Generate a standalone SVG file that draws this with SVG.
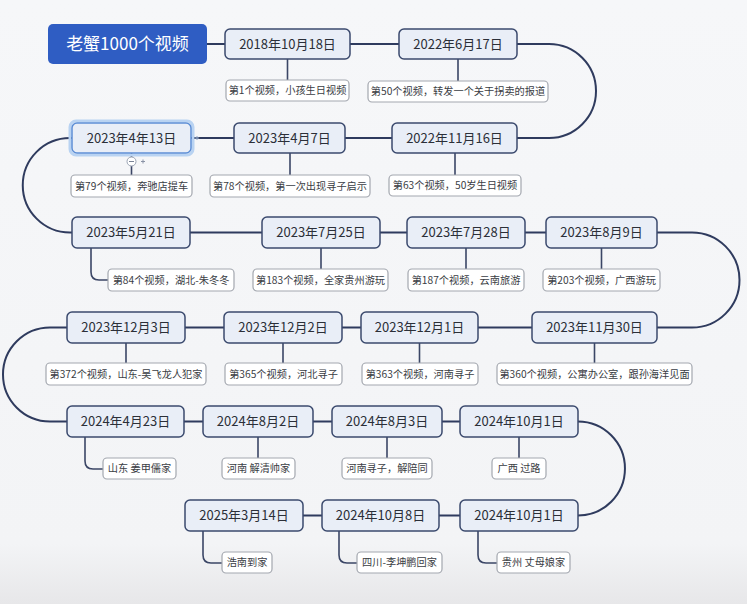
<svg xmlns="http://www.w3.org/2000/svg" width="747" height="604" viewBox="0 0 747 604">
<defs>
<linearGradient id="bg" x1="0" y1="0" x2="0" y2="1">
<stop offset="0" stop-color="#F6F7F9"/>
<stop offset="0.9" stop-color="#F3F4F6"/>
<stop offset="1" stop-color="#E7E7E9"/>
</linearGradient>
<style>
.n rect{fill:#E9EEF7;stroke:#3B4A6E;stroke-width:1.5}
.n text{font-family:"Noto Sans CJK SC","Noto Sans",sans-serif;font-size:13px;fill:#2B2F38;text-anchor:middle}
.l rect{fill:#FFFFFF;stroke:#A3A7AF;stroke-width:1.2}
.l text{font-family:"Noto Sans CJK SC","Noto Sans",sans-serif;font-size:10.2px;fill:#3A3D44;text-anchor:middle}
.c{fill:none;stroke:#2F3B5E;stroke-width:2}
.s{fill:none;stroke:#3B4666;stroke-width:1.6}
</style>
</defs>
<rect x="0" y="0" width="747" height="604" fill="url(#bg)"/>

<g id="connectors">
<path class="c" d="M207,44 H225 M350,44 H399 M517,44 H549 A47,47 0 0 1 549,138 H517"/>
<path class="c" d="M392,138 H345 M234,138 H191 M72,138 H70 A47.25,47.25 0 0 0 70,232.5 H72"/>
<path class="c" d="M190,232.5 H262 M380,232.5 H407 M525,232.5 H546 M657,232.5 H692 A47.5,47.5 0 0 1 692,327.5 H657"/>
<path class="c" d="M532,327.5 H478 M361,327.5 H342 M224,327.5 H185 M67,327.5 H50 A47,47 0 0 0 50,421.5 H67"/>
<path class="c" d="M184,421.5 H203 M313,421.5 H332 M442,421.5 H460 M578,421.5 A47,47 0 0 1 578,515.5"/>
<path class="c" d="M460,515.5 H439 M322,515.5 H303"/>
<path class="s" d="M287.5,59 V80 M458,59 V81 M455,153 V175 M290,153 V175 M131.5,153 V175"/>
<path class="s" d="M91,248 V272 Q91,280 99,280 H108 M321,248 V269 M466,248 V269 M601.5,248 V269"/>
<path class="s" d="M594.5,343 V363 M419.5,343 V363 M283,343 V363 M126,343 V363"/>
<path class="s" d="M85,437 V461 Q85,469 93,469 H103 M258,437 V458 M387,437 V458 M519,437 V458"/>
<path class="s" d="M478,531 V555 Q478,563 486,563 H497 M339,531 V555 Q339,563 347,563 H357 M203,531 V555 Q203,563 211,563 H222"/>
</g>

<g id="title">
<rect x="48" y="24" width="159" height="40" rx="5" fill="#2F5DC3"/>
<text x="127.5" y="50" font-family="Noto Sans CJK SC, Noto Sans, sans-serif" font-size="17" fill="#FFFFFF" text-anchor="middle">老蟹1000个视频</text>
</g>

<g id="n1" class="n"><rect x="225" y="29" width="125" height="30" rx="5"/><text x="287.5" y="48.5">2018年10月18日</text></g>
<g id="l1" class="l"><rect x="226" y="80" width="123" height="21" rx="4"/><text x="287.5" y="94.2">第1个视频，小孩生日视频</text></g>

<g id="n2" class="n"><rect x="399" y="29" width="118" height="30" rx="5"/><text x="458" y="48.5">2022年6月17日</text></g>
<g id="l2" class="l"><rect x="368" y="81" width="180" height="21" rx="4"/><text x="458" y="95.2">第50个视频，转发一个关于拐卖的报道</text></g>

<g id="n3" class="n"><rect x="392" y="123" width="125" height="30" rx="5"/><text x="454.5" y="142.5">2022年11月16日</text></g>
<g id="l3" class="l"><rect x="389" y="175" width="132" height="21" rx="4"/><text x="455" y="189.2">第63个视频，50岁生日视频</text></g>

<g id="n4" class="n"><rect x="234" y="123" width="111" height="30" rx="5"/><text x="289.5" y="142.5">2023年4月7日</text></g>
<g id="l4" class="l"><rect x="210" y="175" width="160" height="22" rx="4"/><text x="290" y="189.7">第78个视频，第一次出现寻子启示</text></g>

<g id="n5" class="n">
<rect x="70" y="121" width="123" height="34" rx="6" style="fill:none;stroke:#B9D3F2;stroke-width:3"/>
<rect x="72" y="123" width="119" height="30" rx="5" style="stroke:#5E8FD6"/>
<text x="131.5" y="142.5">2023年4年13日</text>
<circle cx="131.5" cy="161.5" r="4.5" fill="#FFFFFF" stroke="#9AA3B3" stroke-width="1"/>
<path d="M129,161.5 H134" stroke="#7A8497" stroke-width="1"/>
<path d="M141,161.5 H145 M143,159.5 V163.5" stroke="#8A93A6" stroke-width="1"/>
<path d="M195,138 H199 M197,136 V140" stroke="#8FA6C8" stroke-width="1"/>
</g>
<g id="l5" class="l"><rect x="71" y="175" width="121" height="22" rx="4"/><text x="131.5" y="189.7">第79个视频，奔驰店提车</text></g>

<g id="n6" class="n"><rect x="72" y="217" width="118" height="31" rx="5"/><text x="131" y="237">2023年5月21日</text></g>
<g id="l6" class="l"><rect x="108" y="269" width="126" height="22" rx="4"/><text x="171" y="283.7">第84个视频，湖北-朱冬冬</text></g>

<g id="n7" class="n"><rect x="262" y="217" width="118" height="31" rx="5"/><text x="321" y="237">2023年7月25日</text></g>
<g id="l7" class="l"><rect x="253" y="269" width="135" height="22" rx="4"/><text x="320.5" y="283.7">第183个视频，全家贵州游玩</text></g>

<g id="n8" class="n"><rect x="407" y="217" width="118" height="31" rx="5"/><text x="466" y="237">2023年7月28日</text></g>
<g id="l8" class="l"><rect x="408" y="269" width="116" height="22" rx="4"/><text x="466" y="283.7">第187个视频，云南旅游</text></g>

<g id="n9" class="n"><rect x="546" y="217" width="111" height="31" rx="5"/><text x="601.5" y="237">2023年8月9日</text></g>
<g id="l9" class="l"><rect x="543" y="269" width="117" height="22" rx="4"/><text x="601.5" y="283.7">第203个视频，广西游玩</text></g>

<g id="n10" class="n"><rect x="532" y="312" width="125" height="31" rx="5"/><text x="594.5" y="332">2023年11月30日</text></g>
<g id="l10" class="l"><rect x="497" y="363" width="195" height="22" rx="4"/><text x="594.5" y="377.7">第360个视频，公寓办公室，跟孙海洋见面</text></g>

<g id="n11" class="n"><rect x="361" y="312" width="117" height="31" rx="5"/><text x="419.5" y="332">2023年12月1日</text></g>
<g id="l11" class="l"><rect x="362" y="363" width="116" height="22" rx="4"/><text x="420" y="377.7">第363个视频，河南寻子</text></g>

<g id="n12" class="n"><rect x="224" y="312" width="118" height="31" rx="5"/><text x="283" y="332">2023年12月2日</text></g>
<g id="l12" class="l"><rect x="225" y="363" width="117" height="22" rx="4"/><text x="283.5" y="377.7">第365个视频，河北寻子</text></g>

<g id="n13" class="n"><rect x="67" y="312" width="118" height="31" rx="5"/><text x="126" y="332">2023年12月3日</text></g>
<g id="l13" class="l"><rect x="46" y="363" width="160" height="22" rx="4"/><text x="126" y="377.7">第372个视频，山东-吴飞龙人犯家</text></g>

<g id="n14" class="n"><rect x="67" y="406" width="117" height="31" rx="5"/><text x="125.5" y="426">2024年4月23日</text></g>
<g id="l14" class="l"><rect x="103" y="458" width="73" height="21" rx="4"/><text x="139.5" y="472.2">山东 姜甲儒家</text></g>

<g id="n15" class="n"><rect x="203" y="406" width="110" height="31" rx="5"/><text x="258" y="426">2024年8月2日</text></g>
<g id="l15" class="l"><rect x="222" y="458" width="73" height="21" rx="4"/><text x="258.5" y="472.2">河南 解清帅家</text></g>

<g id="n16" class="n"><rect x="332" y="406" width="110" height="31" rx="5"/><text x="387" y="426">2024年8月3日</text></g>
<g id="l16" class="l"><rect x="342" y="458" width="90" height="21" rx="4"/><text x="387" y="472.2">河南寻子，解陪同</text></g>

<g id="n17" class="n"><rect x="460" y="406" width="118" height="31" rx="5"/><text x="519" y="426">2024年10月1日</text></g>
<g id="l17" class="l"><rect x="492" y="458" width="54" height="21" rx="4"/><text x="519" y="472.2">广西 过路</text></g>

<g id="n18" class="n"><rect x="460" y="500" width="118" height="31" rx="5"/><text x="519" y="520">2024年10月1日</text></g>
<g id="l18" class="l"><rect x="497" y="552" width="73" height="21" rx="4"/><text x="533.5" y="566.2">贵州 丈母娘家</text></g>

<g id="n19" class="n"><rect x="322" y="500" width="117" height="31" rx="5"/><text x="380.5" y="520">2024年10月8日</text></g>
<g id="l19" class="l"><rect x="357" y="552" width="85" height="21" rx="4"/><text x="399.5" y="566.2">四川-李坤鹏回家</text></g>

<g id="n20" class="n"><rect x="185" y="500" width="118" height="31" rx="5"/><text x="244" y="520">2025年3月14日</text></g>
<g id="l20" class="l"><rect x="222" y="552" width="50" height="21" rx="4"/><text x="247" y="566.2">浩南到家</text></g>
</svg>
